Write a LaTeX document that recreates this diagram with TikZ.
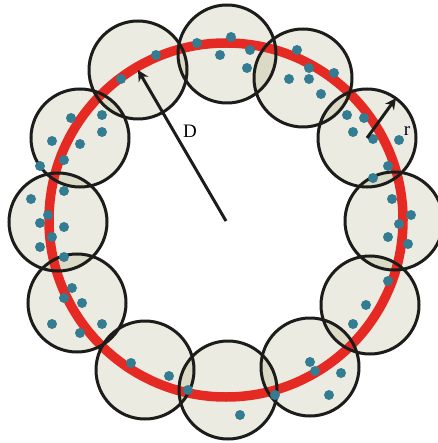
\documentclass[tikz,border=0pt]{standalone}
\usepackage{fontspec}
\setmainfont{Liberation Serif}
\usetikzlibrary{positioning,arrows.meta}
\definecolor{ringRed}{RGB}{228,42,34}
\definecolor{dotTeal}{RGB}{52,124,146}
\definecolor{discFill}{RGB}{135,135,75}
\definecolor{rimDark}{RGB}{28,28,26}

\begin{document}
\begin{tikzpicture}[x=1pt, y=-1pt,
    disc/.style={circle, minimum size=98pt, inner sep=0pt},
    sample/.style={fill=dotTeal, draw=none},
    ptr/.style={line width=3pt, -{Stealth[length=11pt,width=11pt]}}]
  \useasboundingbox (0,0) rectangle (437,443);
  \coordinate (ctr) at (226,221);
  % the twelve covering discs
  \foreach \n/\cx/\cy in {1/227/54, 2/303/78, 3/367/138, 4/394/221, 5/370/305,
      6/310/367, 7/228/390, 8/145/370, 9/77/303, 10/58/222, 11/80/138, 12/138/70}
    \node[disc] (c\n) at (\cx,\cy) {};
  \foreach \n in {1,...,12}
    \fill[discFill, fill opacity=0.17] (c\n.center) circle (49);
  % the ring
  \draw[ringRed, line width=9.5pt] (226,220) circle (177);
  \foreach \n in {1,...,12}
    \draw[rimDark, line width=3pt] (c\n.center) circle (49);
  % sample points
  \foreach \px/\py in {197/43, 220/55, 156/55, 121/79, 71/118, 102/115, 102/132,
      52/141, 80/144, 64/160, 40/166, 64/191, 31/199, 48/215, 40/223, 64/227,
      52/237, 40/247, 64/257, 72/288, 64/298, 82/303, 52/324, 80/333, 102/324,
      131/363, 169/376, 188/390, 399/224, 388/237, 408/244, 388/281, 366/305,
      353/324, 310/362, 315/371, 341/373, 329/395, 275/395, 240/415, 231/37,
      250/50, 247/68, 297/50, 309/68, 289/79, 309/79, 334/73, 321/94, 347/115,
      364/118, 353/132, 373/139, 399/140, 388/166, 373/178, 392/199, 411/215}
    \fill[sample] (\px,\py) circle (5);
  % radii
  \coordinate (dTip) at (138,70);
  \draw[ptr, rimDark] (ctr) -- (dTip);
  \draw[ptr, rimDark] (c3.center) -- (c3.54);
  \node[font=\fontsize{19}{21}\selectfont] (dLbl) at (190,131) {D};
  \node[font=\fontsize{19}{21}\selectfont, text=black!85!blue] (rLbl) at (407,131) {r};
\end{tikzpicture}
\end{document}
